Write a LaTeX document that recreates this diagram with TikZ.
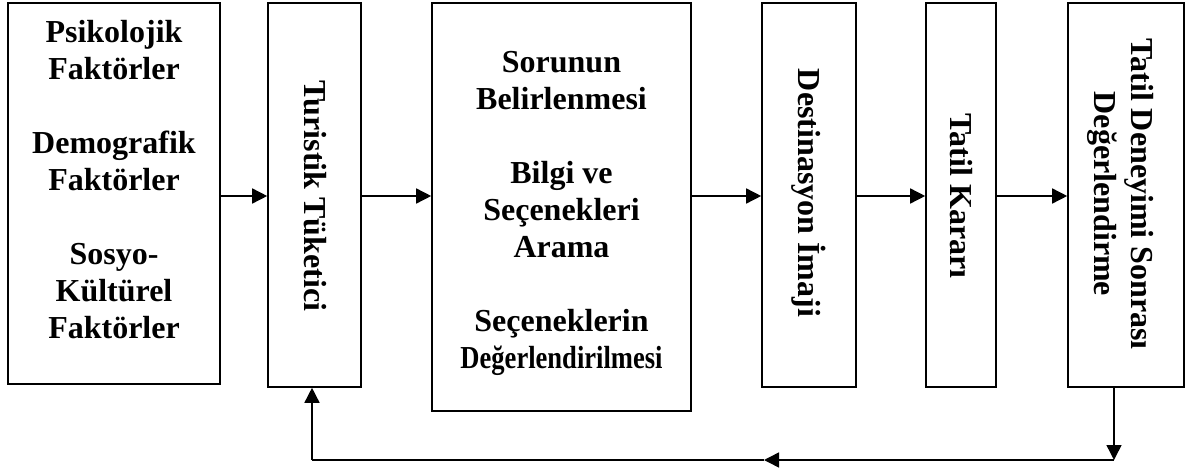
\documentclass[tikz,border=0pt]{standalone}
\usepackage{fontspec}
\setmainfont{Liberation Serif}
\usepackage{graphicx}
\usetikzlibrary{arrows.meta}
\tikzset{
  box/.style={draw, line width=1.6pt, rectangle, inner sep=0pt},
  lbl/.style={font=\fontsize{32}{37}\selectfont\bfseries, align=center, inner sep=0pt},
  vlbl/.style={lbl, rotate=-90},
  arr/.style={line width=1.5pt, -{Triangle[length=15pt,width=15pt]}},
  ln/.style={line width=1.5pt}
}
\begin{document}
\begin{tikzpicture}[x=1pt,y=-1pt]
\useasboundingbox (0,0) rectangle (1186,468);
% boxes
\node[box, minimum width=212pt, minimum height=381pt] (b1) at (114,193.5) {};
\node[box, minimum width=93pt, minimum height=384pt] (b2) at (314.5,195) {};
\node[box, minimum width=259pt, minimum height=408pt] (b3) at (561.5,207) {};
\node[box, minimum width=94pt, minimum height=384pt] (b4) at (809,195) {};
\node[box, minimum width=70pt, minimum height=384pt] (b5) at (961,195) {};
\node[box, minimum width=116pt, minimum height=384pt] (b6) at (1126,195) {};
% labels
\node[lbl] (t1) at (114,180) {Psikolojik\\Faktörler\\[37pt]Demografik\\Faktörler\\[37pt]Sosyo-\\Kültürel\\Faktörler};
\node[vlbl] (t2) at (315,196) {Turistik Tüketici};
\node[lbl] (t3) at (561.5,213) {Sorunun\\Belirlenmesi\\[37pt]Bilgi ve\\Seçenekleri\\Arama\\[37pt]Seçeneklerin\\\scalebox{0.83}[1]{Değerlendirilmesi}};
\node[vlbl] (t4) at (809,193) {Destinasyon İmaji};
\node[vlbl] (t5) at (961,196) {Tatil Kararı};
\node[vlbl] (t6) at (1121,194) {Tatil Deneyimi Sonrası\\Değerlendirme};
% connectors
\coordinate (ay) at (0,196);
\draw[arr] (b1.east |- ay) -- (b2.west |- ay);
\draw[arr] (b2.east |- ay) -- (b3.west |- ay);
\draw[arr] (b3.east |- ay) -- (b4.west |- ay);
\draw[arr] (b4.east |- ay) -- (b5.west |- ay);
\draw[arr] (b5.east |- ay) -- (b6.west |- ay);
% feedback loop
\coordinate (fr) at (1114,460);
\coordinate (fm) at (764,460);
\coordinate (fl) at (312,460);
\draw[arr] (b6.south -| fr) -- (fr);
\draw[arr] (fr) -- (fm);
\draw[ln] (fm) -- (fl);
\draw[arr] (fl) -- (b2.south -| fl);
\end{tikzpicture}
\end{document}
